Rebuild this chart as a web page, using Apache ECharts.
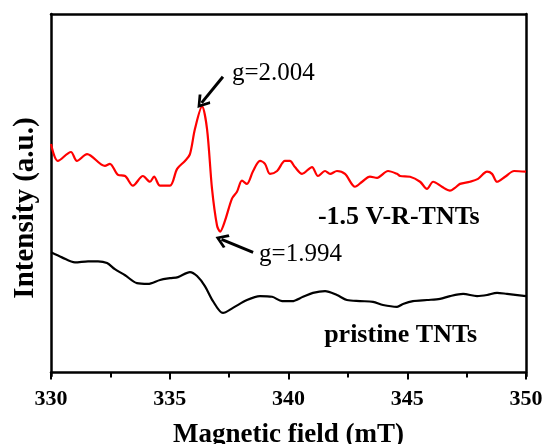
<!DOCTYPE html>
<html><head><meta charset="utf-8">
<script src="https://cdn.jsdelivr.net/npm/echarts@6/dist/echarts.min.js"></script>
<style>html,body{margin:0;padding:0;background:#fff}#c{width:544px;height:444px}</style>
</head><body><div id="c"></div>
<script>
const xTicks = [330, 335, 340, 345, 350];
const redField = [330.00,330.29,330.84,331.09,331.52,332.27,332.48,332.82,333.12,333.45,333.87,334.17,334.34,334.59,335.01,335.31,335.64,335.85,336.06,336.36,336.57,336.78,336.99,337.12,337.33,337.62,337.83,338.04,338.25,338.51,338.80,339.01,339.22,339.52,339.85,340.06,340.27,340.57,340.99,341.24,341.54,341.75,342.04,342.38,342.80,343.10,343.43,343.73,344.19,344.57,344.70,345.12,345.54,345.83,346.09,346.46,346.80,347.01,347.22,347.64,347.98,348.36,348.57,348.78,349.12,349.50,350.00];
const redIntensity = [63.7,59.0,61.5,59.0,60.9,57.6,58.2,55.1,54.8,52.1,54.8,53.2,54.6,52.1,52.1,56.8,59.0,60.9,67.9,74.2,67.9,51.2,41.0,39.3,42.4,48.5,50.4,53.5,52.6,56.2,59.0,58.2,55.4,56.2,59.0,59.0,57.3,55.4,57.3,54.8,56.2,55.4,56.2,55.4,51.8,53.2,54.6,54.3,56.2,55.4,54.8,54.6,53.2,51.2,53.2,51.8,50.7,51.5,52.6,53.2,54.0,56.0,55.4,53.2,54.6,56.2,56.0];
const blackField = [330.00,330.46,331.01,331.56,331.98,332.36,332.69,333.12,333.62,334.08,334.59,335.01,335.35,335.85,336.15,336.48,336.82,337.24,337.66,338.25,338.80,339.31,339.73,340.15,340.61,341.03,341.54,342.04,342.46,343.01,343.56,343.98,344.57,344.82,345.24,345.83,346.38,346.80,347.35,347.94,348.36,348.78,349.20,350.00];
const blackIntensity = [33.5,32.1,30.7,31.0,31.0,30.5,28.8,27.1,24.9,24.7,25.8,26.3,26.6,28.0,26.9,24.1,19.9,16.6,18.0,20.2,21.3,21.1,19.9,19.9,21.1,22.2,22.7,21.6,20.2,19.9,19.7,18.8,18.3,19.1,19.9,20.2,20.5,21.3,21.9,21.3,21.6,22.2,21.9,21.3];
const seriesNames = ['-1.5 V-R-TNTs', 'pristine TNTs'];
const peakLabels = ['g=2.004', 'g=1.994'];
// annotation anchors in data space [field, intensity]
const labelAnchors = [[337.62, 83.3], [338.76, 33.0], [341.24, 43.3], [341.50, 10.4]];
const arrowLines = [[[337.24, 82.5], [336.34, 75.2]], [[338.51, 33.5], [337.18, 37.1]]];

const font = 'Liberation Serif, Times New Roman, serif';
const chart = echarts.init(document.getElementById('c'));
const zip = (a, b) => a.map((v, i) => [v, b[i]]);
const arrowPath = 'path://M50,0 L100,80 L86,94 L50,34 L14,94 L0,80 Z';

chart.setOption({
  animation: false,
  grid: {left: 51, right: 18, top: 14, bottom: 68, show: false, containLabel: false, outerBoundsMode: 'none'},
  xAxis: [{
    type: 'value', min: 330, max: 350, interval: 5,
    axisLine: {show: true, lineStyle: {color: '#000', width: 2.5}},
    axisTick: {show: true, inside: false, length: 7, lineStyle: {color: '#000', width: 2}},
    minorTick: {show: true, splitNumber: 2, length: 5, lineStyle: {color: '#000', width: 2}},
    splitLine: {show: false},
    axisLabel: {color: '#000', fontFamily: font, fontWeight: 'bold', fontSize: 22, margin: 12,
      formatter: v => xTicks.includes(v) ? String(v) : ''},
    name: 'Magnetic field (mT)', nameLocation: 'middle', nameGap: 46,
    nameTextStyle: {color: '#000', fontFamily: font, fontWeight: 'bold', fontSize: 27}
  }, {
    type: 'value', min: 330, max: 350, position: 'top',
    axisLine: {show: true, onZero: false, lineStyle: {color: '#000', width: 2.5}},
    axisTick: {show: false}, axisLabel: {show: false}, splitLine: {show: false}
  }],
  yAxis: [{
    type: 'value', min: -1, max: 100,
    axisLine: {show: true, onZero: false, lineStyle: {color: '#000', width: 2.5}},
    axisTick: {show: false}, axisLabel: {show: false}, splitLine: {show: false},
    name: 'Intensity (a.u.)', nameLocation: 'middle', nameGap: 11,
    nameTextStyle: {color: '#000', fontFamily: font, fontWeight: 'bold', fontSize: 29, padding: [0, 26, 0, 0]}
  }, {
    type: 'value', min: -1, max: 100, position: 'right',
    axisLine: {show: true, onZero: false, lineStyle: {color: '#000', width: 2.5}},
    axisTick: {show: false}, axisLabel: {show: false}, splitLine: {show: false}
  }],
  series: [{
    name: seriesNames[0], type: 'line', data: zip(redField, redIntensity),
    showSymbol: false, smooth: 0.3, lineStyle: {color: '#ff0000', width: 2.2}, itemStyle: {color: '#ff0000'},
    markLine: {
      silent: true, symbol: ['none', arrowPath], symbolSize: [15, 13],
      lineStyle: {color: '#000', width: 3, type: 'solid'}, label: {show: false},
      data: arrowLines.map(l => [{coord: l[0]}, {coord: l[1]}])
    }
  }, {
    name: seriesNames[1], type: 'line', data: zip(blackField, blackIntensity),
    showSymbol: false, smooth: 0.3, lineStyle: {color: '#000', width: 2.2}, itemStyle: {color: '#000'}
  }]
});

const texts = [peakLabels[0], peakLabels[1], seriesNames[0], seriesNames[1]];
const bold = [false, false, true, true];
chart.setOption({
  graphic: texts.map((t, i) => {
    const p = chart.convertToPixel({xAxisIndex: 0, yAxisIndex: 0}, labelAnchors[i]);
    return {type: 'text', x: p[0], y: p[1], silent: true,
      style: {text: t, fill: '#000', font: (bold[i] ? 'bold 26px ' : '25px ') + font,
        textAlign: 'left', textVerticalAlign: 'middle'}};
  })
});
</script></body></html>
